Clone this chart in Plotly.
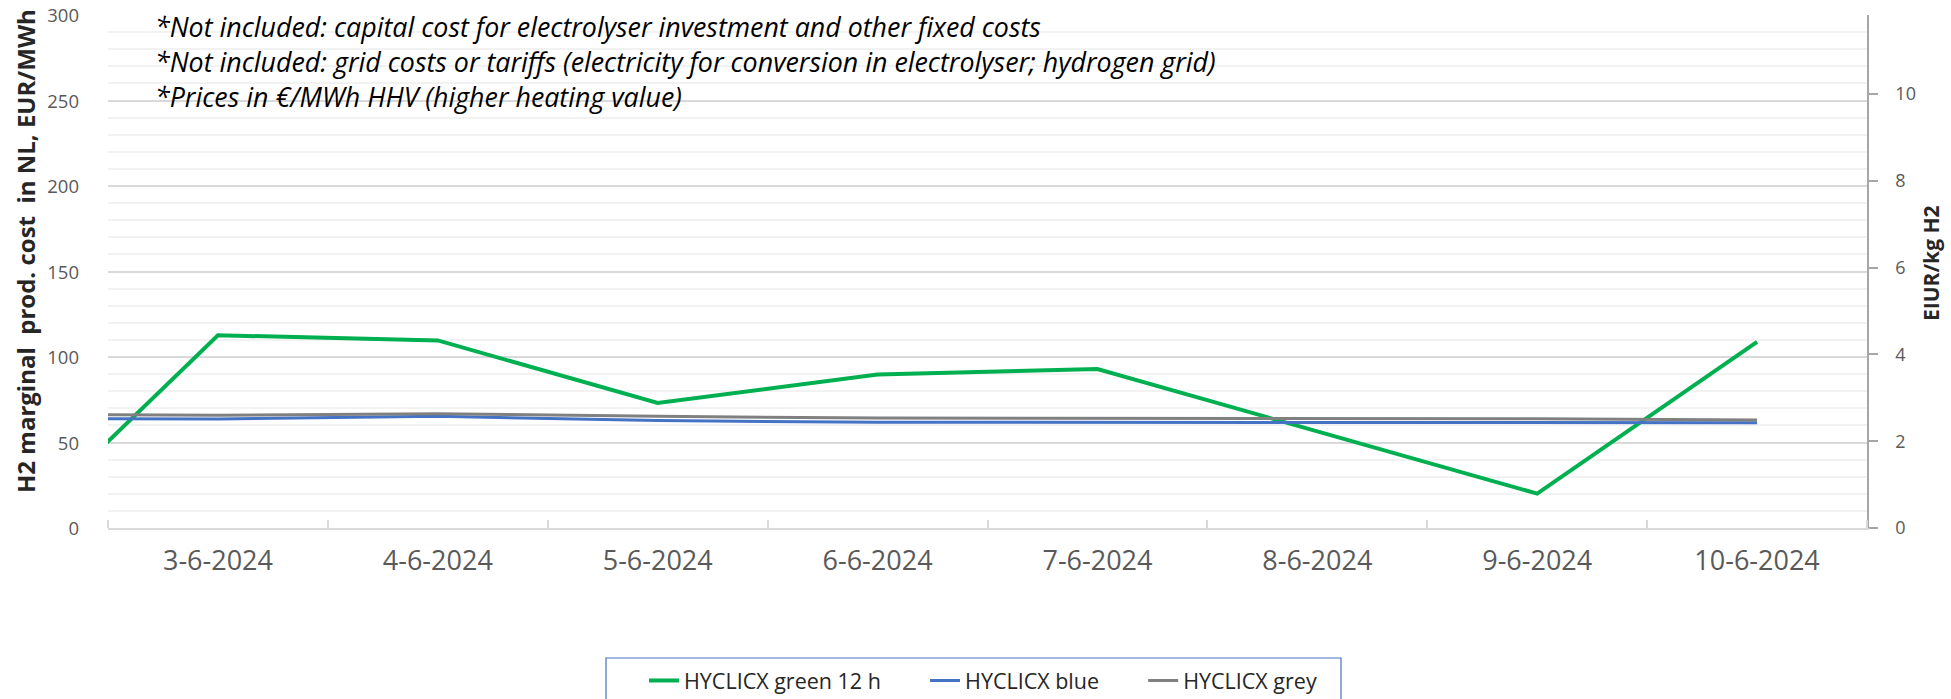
import plotly.graph_objects as go

# ---- data ----
dates = ["2-6-2024", "3-6-2024", "4-6-2024", "5-6-2024", "6-6-2024",
         "7-6-2024", "8-6-2024", "9-6-2024", "10-6-2024"]
green_12h = [-11.5, 112.7, 109.7, 73.1, 89.7, 93.0, 56.5, 20.1, 108.8]
blue = [64.1, 63.7, 65.3, 62.8, 61.8, 61.8, 61.6, 61.4, 61.6]
grey = [66.6, 66.0, 66.8, 65.3, 64.3, 64.3, 64.1, 63.9, 63.2]
shown_dates = dates[1:]
series_names = ["HYCLICX green 12 h", "HYCLICX blue", "HYCLICX grey"]
notes = [
    "*Not included: capital cost for electrolyser investment and other fixed costs",
    "*Not included: grid costs or tariffs (electricity for conversion in electrolyser; hydrogen grid)",
    "*Prices in €/MWh HHV (higher heating value)",
]
MWH_PER_KG = 0.0394  # HHV of hydrogen

# ---- layout constants (screen pixels; body margin removed by post_script) ----
W, H = 1951, 699
L, R, T, B = 108, 1951 - 1867, 15, 699 - 528
PW, PH = W - L - R, H - T - B


def px_x(sx):
    return (sx - L) / PW


def px_y(sy):
    return (H - B - sy) / PH


FONT = "Open Sans"
TXT = "#595959"
PAD = "\u00a0" * 7

xpos = list(range(-1, len(shown_dates)))  # 2-6 sits left of visible range
fig = go.Figure()
fig.add_trace(go.Scatter(x=xpos, y=green_12h, mode="lines", name=series_names[0] + PAD,
                         line=dict(color="#00B050", width=4)))
fig.add_trace(go.Scatter(x=xpos, y=blue, mode="lines", name=series_names[1] + PAD,
                         line=dict(color="#4472C4", width=3)))
fig.add_trace(go.Scatter(x=xpos, y=grey, mode="lines", name=series_names[2],
                         line=dict(color="#808080", width=3)))
# invisible trace to activate secondary axis
fig.add_trace(go.Scatter(x=[0], y=[0], yaxis="y2", mode="lines", showlegend=False,
                         hoverinfo="skip", line=dict(width=0)))

ymax = 300
n = len(shown_dates)
fig.update_layout(
    width=W, height=H,
    margin=dict(l=L, r=R, t=T, b=B, autoexpand=False),
    paper_bgcolor="white", plot_bgcolor="white",
    font=dict(family=FONT, color=TXT, size=18),
    xaxis=dict(
        range=[-0.5, n - 0.5], tickmode="array",
        tickvals=list(range(n)), ticktext=shown_dates,
        ticks="", showgrid=False, zeroline=False,
        showline=True, linecolor="#D9D9D9", linewidth=1.5,
        ticklabelstandoff=8, tickfont=dict(size=27, color=TXT),
        minor=dict(tickmode="array", tickvals=[i - 0.5 for i in range(n + 1)],
                   ticks="inside", ticklen=8, tickcolor="#D9D9D9", tickwidth=1.5,
                   showgrid=False),
    ),
    yaxis=dict(
        range=[0, ymax], tickmode="linear", tick0=0, dtick=50,
        showgrid=True, gridcolor="#D9D9D9", gridwidth=1.5,
        zeroline=False, showline=False, ticks="",
        ticklabelstandoff=28, ticklabeloverflow="allow", ticklabelshift=1,
        tickfont=dict(size=18.5, color=TXT),
        minor=dict(dtick=10, showgrid=True, gridcolor="#F2F2F2", gridwidth=1.5),
    ),
    yaxis2=dict(
        overlaying="y", side="right", range=[0, ymax * MWH_PER_KG],
        tickmode="linear", tick0=0, dtick=2, showgrid=False, zeroline=False,
        showline=True, linecolor="#A6A6A6", linewidth=1.5,
        ticks="outside", ticklen=9, tickcolor="#A6A6A6", tickwidth=1.5,
        ticklabelstandoff=14, ticklabeloverflow="allow",
        tickfont=dict(size=18, color=TXT),
    ),
    showlegend=True,
    legend=dict(
        orientation="h", x=px_x(644), xanchor="left", y=px_y(660), yanchor="top",
        borderwidth=0, font=dict(size=21.5, color="#262626"),
        traceorder="normal", bgcolor="rgba(0,0,0,0)",
    ),
)

# legend frame (runs off the bottom edge like the reference)
fig.add_shape(type="rect", xref="paper", yref="paper",
              x0=px_x(606), x1=px_x(1341), y0=px_y(730), y1=px_y(658),
              line=dict(color="#4472C4", width=1.2), fillcolor="rgba(0,0,0,0)",
              layer="above")

# axis titles
fig.add_annotation(
    text="H2 marginal\u00a0 prod. cost\u00a0 in NL, EUR/MWh", textangle=-90,
    xref="paper", yref="paper", x=px_x(25), y=px_y(251),
    xanchor="center", yanchor="middle", showarrow=False,
    font=dict(family=FONT, size=24, color="#262626", weight="bold"),
)
fig.add_annotation(
    text="EIUR/kg H2", textangle=-90,
    xref="paper", yref="paper", x=px_x(1931), y=px_y(263),
    xanchor="center", yanchor="middle", showarrow=False,
    font=dict(family=FONT, size=21, color="#262626", weight="bold"),
)
# notes
for i, t in enumerate(notes):
    fig.add_annotation(
        text="<i>" + t + "</i>", xref="paper", yref="paper",
        x=px_x(153), y=px_y(26 + 35 * i), xanchor="left", yanchor="middle",
        showarrow=False, font=dict(family=FONT, size=26.8, color="#000000"),
    )

fig.write_html(
    "out.html",
    config=dict(displayModeBar=False),
    post_script="document.body.style.margin='0';document.body.style.overflow='hidden';",
)
